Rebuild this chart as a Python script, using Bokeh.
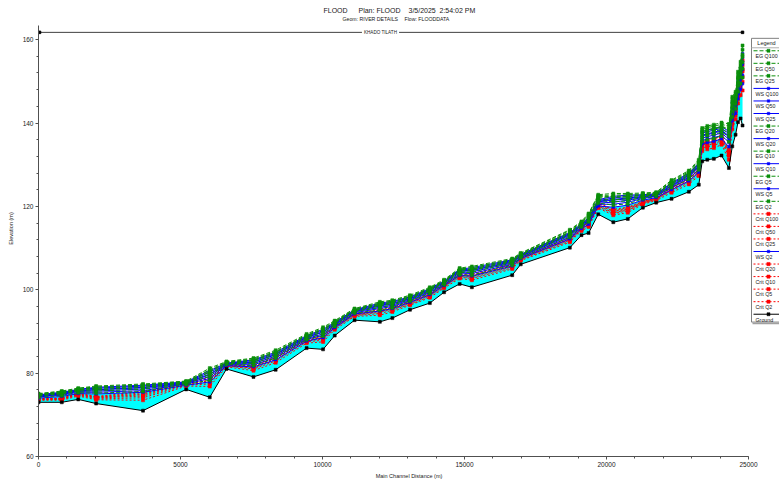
from bokeh.plotting import figure
from bokeh.models import Range1d, Label, SingleIntervalTicker
from bokeh.embed import file_html
from bokeh.resources import INLINE

# ---------------- data ----------------
station = [0, 820, 1400, 2030, 3680, 5200, 6030, 6620, 7570, 8350, 9440, 10020, 10430, 11130,
           12020, 12460, 13080, 13780, 14280, 14830, 15260, 16680, 16980, 18710, 19120, 19370,
           19710, 20240, 20750, 21280, 21750, 22290, 22900, 23250, 23370, 23550, 23780, 24050,
           24310, 24430, 24545, 24630, 24720, 24790]

ground = [73.0, 73.0, 73.7, 72.7, 71.0, 76.1, 74.2, 81.0, 79.1, 80.8, 86.0, 85.7, 89.0, 92.7,
          92.3, 93.2, 95.2, 96.8, 99.4, 101.4, 100.6, 103.5, 106.1, 110.1, 113.1, 113.6, 118.1,
          116.2, 117.0, 119.7, 120.9, 121.8, 123.5, 125.2, 130.8, 131.2, 131.4, 132.2, 129.2,
          134.4, 137.2, 140.2, 141.1, 139.4]

ws_q100 = [74.8, 75.4, 76.1, 76.6, 77.1, 77.9, 80.6, 82.4, 83.2, 85.0, 89.0, 90.5, 92.2, 95.2, 96.8, 97.2, 98.3, 100.3, 102.1, 104.9, 105.3, 107.2, 108.5, 113.7, 115.8, 117.3, 121.6, 122.4, 122.7, 122.8, 123.0, 125.6, 128.0, 130.4, 138.0, 138.3, 138.7, 139.1, 138.0, 145.1, 146.0, 149.9, 153.1, 156.7]
ws_q50 = [74.7, 75.3, 76.0, 76.4, 76.9, 77.8, 80.2, 82.3, 83.0, 84.7, 88.8, 90.2, 92.0, 95.1, 96.5, 97.0, 98.1, 100.1, 101.9, 104.7, 105.0, 107.0, 108.4, 113.5, 115.6, 117.1, 121.4, 122.0, 122.4, 122.6, 122.9, 125.4, 127.7, 130.1, 137.6, 137.9, 138.3, 138.7, 137.5, 144.5, 145.5, 149.3, 152.4, 155.7]
ws_q25 = [74.6, 75.1, 75.8, 76.1, 76.6, 77.7, 79.8, 82.2, 82.7, 84.5, 88.6, 89.9, 91.8, 94.9, 96.3, 96.7, 97.9, 99.9, 101.8, 104.5, 104.7, 106.8, 108.2, 113.3, 115.5, 116.9, 121.2, 121.7, 122.0, 122.4, 122.7, 125.1, 127.5, 129.8, 137.1, 137.4, 137.8, 138.3, 136.9, 143.8, 144.9, 148.7, 151.7, 154.6]
ws_q20 = [74.5, 75.0, 75.7, 76.0, 76.5, 77.6, 79.6, 82.2, 82.6, 84.4, 88.6, 89.8, 91.7, 94.8, 96.1, 96.6, 97.8, 99.8, 101.7, 104.4, 104.6, 106.6, 108.1, 113.2, 115.4, 116.7, 121.1, 121.5, 121.8, 122.3, 122.7, 125.0, 127.3, 129.6, 136.9, 137.2, 137.6, 138.1, 136.7, 143.5, 144.7, 148.4, 151.3, 154.1]
ws_q10 = [74.4, 74.9, 75.6, 75.7, 76.2, 77.5, 79.2, 82.1, 82.3, 84.1, 88.3, 89.4, 91.5, 94.7, 95.8, 96.3, 97.6, 99.5, 101.5, 104.1, 104.3, 106.4, 108.0, 112.9, 115.2, 116.5, 120.8, 121.0, 121.5, 122.1, 122.5, 124.8, 127.0, 129.3, 136.4, 136.7, 137.1, 137.6, 136.1, 142.8, 144.1, 147.8, 150.5, 152.9]
ws_q5 = [74.3, 74.7, 75.4, 75.4, 75.8, 77.4, 78.7, 82.0, 82.0, 83.7, 88.1, 89.1, 91.2, 94.5, 95.5, 96.0, 97.4, 99.3, 101.3, 103.8, 103.9, 106.1, 107.8, 112.6, 115.0, 116.2, 120.5, 120.5, 121.0, 121.9, 122.4, 124.5, 126.7, 128.8, 135.8, 136.2, 136.5, 137.0, 135.4, 141.9, 143.4, 147.0, 149.5, 151.5]
ws_q2 = [74.0, 74.4, 75.1, 75.0, 75.4, 77.1, 77.9, 81.8, 81.5, 83.2, 87.7, 88.5, 90.9, 94.2, 94.9, 95.5, 97.0, 98.8, 101.0, 103.4, 103.3, 105.7, 107.5, 112.2, 114.7, 115.7, 120.1, 119.8, 120.3, 121.5, 122.1, 124.0, 126.1, 128.2, 135.0, 135.3, 135.6, 136.2, 134.3, 140.6, 142.3, 145.8, 148.1, 149.4]

eg_q100 = [75.1, 75.7, 76.4, 76.9, 77.4, 78.1, 81.2, 82.8, 83.6, 85.5, 89.4, 91.0, 92.6, 95.5, 97.1, 97.5, 98.7, 100.6, 102.4, 105.2, 105.6, 107.5, 108.8, 114.4, 116.4, 118.3, 122.8, 123.1, 123.1, 123.2, 123.4, 126.3, 128.6, 131.2, 138.8, 139.3, 139.6, 140.1, 139.8, 146.3, 147.5, 152.3, 154.7, 158.6]
eg_q50 = [75.0, 75.6, 76.3, 76.7, 77.2, 78.0, 80.8, 82.7, 83.4, 85.2, 89.2, 90.7, 92.4, 95.4, 96.8, 97.3, 98.5, 100.4, 102.2, 105.0, 105.3, 107.3, 108.7, 114.2, 116.2, 118.1, 122.6, 122.7, 122.8, 123.0, 123.3, 126.1, 128.3, 130.9, 138.4, 138.9, 139.2, 139.7, 139.2, 145.7, 147.0, 151.6, 154.0, 157.6]
eg_q25 = [74.9, 75.4, 76.1, 76.4, 76.9, 77.9, 80.4, 82.6, 83.1, 85.0, 89.0, 90.4, 92.2, 95.2, 96.6, 97.0, 98.3, 100.2, 102.1, 104.8, 105.0, 107.1, 108.5, 113.9, 116.1, 117.8, 122.3, 122.4, 122.4, 122.8, 123.1, 125.8, 128.1, 130.5, 137.9, 138.4, 138.7, 139.2, 138.6, 145.0, 146.3, 150.9, 153.2, 156.4]
eg_q20 = [74.8, 75.3, 76.0, 76.3, 76.8, 77.8, 80.2, 82.6, 83.0, 84.9, 89.0, 90.3, 92.1, 95.1, 96.4, 96.9, 98.2, 100.1, 102.0, 104.7, 104.9, 106.9, 108.4, 113.8, 116.0, 117.6, 122.2, 122.2, 122.2, 122.7, 123.1, 125.6, 127.9, 130.3, 137.7, 138.2, 138.5, 139.0, 138.4, 144.7, 146.1, 150.6, 152.9, 155.9]
eg_q10 = [74.7, 75.2, 75.9, 76.0, 76.5, 77.7, 79.7, 82.4, 82.7, 84.5, 88.7, 89.9, 91.9, 95.0, 96.1, 96.6, 98.0, 99.8, 101.8, 104.4, 104.6, 106.7, 108.3, 113.5, 115.7, 117.3, 121.8, 121.6, 121.8, 122.4, 122.9, 125.4, 127.5, 130.0, 137.1, 137.6, 137.9, 138.5, 137.6, 143.9, 145.4, 149.8, 152.0, 154.6]
eg_q5 = [74.6, 75.0, 75.7, 75.7, 76.1, 77.6, 79.2, 82.3, 82.3, 84.1, 88.4, 89.5, 91.5, 94.8, 95.7, 96.3, 97.7, 99.6, 101.6, 104.1, 104.2, 106.4, 108.1, 113.1, 115.5, 116.9, 121.4, 121.1, 121.3, 122.2, 122.7, 125.0, 127.2, 129.5, 136.5, 137.0, 137.3, 137.8, 136.8, 142.9, 144.6, 148.9, 151.0, 153.1]
eg_q2 = [74.2, 74.6, 75.3, 75.2, 75.6, 77.3, 78.3, 82.1, 81.8, 83.6, 88.0, 88.9, 91.2, 94.4, 95.1, 95.7, 97.3, 99.1, 101.2, 103.6, 103.5, 105.9, 107.7, 112.6, 115.1, 116.3, 120.8, 120.3, 120.6, 121.8, 122.4, 124.5, 126.5, 128.8, 135.6, 136.0, 136.3, 136.9, 135.5, 141.5, 143.4, 147.5, 149.5, 150.9]

crit_q100 = [73.9, 74.0, 75.2, 74.4, 75.6, 77.6, 79.0, 82.0, 81.9, 84.0, 88.3, 89.0, 91.5, 94.3, 95.3, 96.0, 97.2, 99.2, 101.3, 103.8, 103.7, 106.2, 107.8, 112.5, 115.0, 116.3, 120.8, 119.3, 119.8, 121.2, 122.0, 124.6, 126.8, 129.0, 135.5, 135.8, 136.2, 137.0, 133.5, 142.0, 144.0, 148.5, 151.5, 155.0]
crit_q50 = [73.8, 73.9, 75.1, 74.3, 75.3, 77.5, 78.7, 81.9, 81.7, 83.8, 88.1, 88.8, 91.3, 94.2, 95.1, 95.8, 97.1, 99.0, 101.2, 103.6, 103.5, 106.0, 107.7, 112.3, 114.9, 116.1, 120.6, 119.1, 119.6, 121.1, 121.9, 124.4, 126.6, 128.7, 135.2, 135.5, 135.9, 136.7, 133.2, 141.5, 143.5, 147.9, 150.8, 153.9]
crit_q25 = [73.8, 73.9, 75.0, 74.2, 75.0, 77.4, 78.3, 81.9, 81.5, 83.6, 88.0, 88.5, 91.2, 94.1, 94.9, 95.6, 96.9, 98.9, 101.0, 103.5, 103.3, 105.8, 107.6, 112.2, 114.7, 115.9, 120.4, 118.9, 119.4, 121.0, 121.9, 124.2, 126.3, 128.5, 134.8, 135.2, 135.5, 136.3, 132.9, 140.9, 143.0, 147.3, 150.0, 152.8]
crit_q20 = [73.7, 73.8, 74.9, 74.1, 74.8, 77.3, 78.2, 81.8, 81.4, 83.5, 87.9, 88.4, 91.1, 94.0, 94.8, 95.5, 96.9, 98.8, 101.0, 103.4, 103.2, 105.7, 107.5, 112.1, 114.7, 115.8, 120.3, 118.8, 119.3, 120.9, 121.8, 124.1, 126.2, 128.4, 134.7, 135.0, 135.4, 136.2, 132.8, 140.7, 142.8, 147.1, 149.7, 152.4]
crit_q10 = [73.7, 73.8, 74.8, 74.0, 74.5, 77.2, 77.8, 81.8, 81.2, 83.2, 87.7, 88.2, 90.9, 93.9, 94.6, 95.3, 96.7, 98.6, 100.8, 103.2, 102.9, 105.5, 107.4, 111.9, 114.5, 115.6, 120.1, 118.5, 119.1, 120.8, 121.7, 123.9, 126.0, 128.1, 134.3, 134.7, 135.0, 135.8, 132.4, 140.1, 142.3, 146.4, 148.9, 151.1]
crit_q5 = [73.6, 73.7, 74.7, 73.8, 74.1, 77.1, 77.4, 81.7, 81.0, 82.9, 87.5, 87.9, 90.7, 93.8, 94.3, 95.1, 96.5, 98.4, 100.7, 103.0, 102.7, 105.3, 107.2, 111.7, 114.4, 115.4, 119.9, 118.3, 118.9, 120.7, 121.7, 123.7, 125.7, 127.7, 134.0, 134.3, 134.6, 135.4, 132.1, 139.5, 141.8, 145.8, 148.1, 149.9]
crit_q2 = [73.5, 73.5, 74.5, 73.6, 73.5, 76.9, 76.8, 81.5, 80.6, 82.5, 87.2, 87.5, 90.4, 93.6, 93.9, 94.7, 96.3, 98.1, 100.4, 102.7, 102.3, 105.0, 107.0, 111.4, 114.1, 115.1, 119.6, 117.9, 118.5, 120.5, 121.4, 123.3, 125.3, 127.3, 133.3, 133.7, 134.0, 134.8, 131.2, 138.5, 140.9, 144.7, 146.7, 147.8]

x_tick_interval = 5000
y_tick_interval = 20

title_parts = ["FLOOD", "Plan: FLOOD", "3/5/2025", "2:54:02 PM"]
subtitle_parts = ["Geom: RIVER DETAILS", "Flow: FLOODDATA"]
reach_name = "KHADO TILATH"
x_label = "Main Channel Distance (m)"
y_label = "Elevation (m)"

legend_order = ["EG Q100", "EG Q50", "EG Q25", "WS Q100", "WS Q50", "WS Q25", "EG Q20",
                "WS Q20", "EG Q10", "WS Q10", "EG Q5", "WS Q5", "EG Q2", "Crit Q100",
                "Crit Q50", "Crit Q25", "WS Q2", "Crit Q20", "Crit Q10", "Crit Q5",
                "Crit Q2", "Ground"]

series = {
    "EG Q100": eg_q100, "EG Q50": eg_q50, "EG Q25": eg_q25, "EG Q20": eg_q20,
    "EG Q10": eg_q10, "EG Q5": eg_q5, "EG Q2": eg_q2,
    "WS Q100": ws_q100, "WS Q50": ws_q50, "WS Q25": ws_q25, "WS Q20": ws_q20,
    "WS Q10": ws_q10, "WS Q5": ws_q5, "WS Q2": ws_q2,
    "Crit Q100": crit_q100, "Crit Q50": crit_q50, "Crit Q25": crit_q25, "Crit Q20": crit_q20,
    "Crit Q10": crit_q10, "Crit Q5": crit_q5, "Crit Q2": crit_q2,
    "Ground": ground,
}
for k, v in series.items():
    if len(v) != len(station):
        print("length mismatch", k, len(v))

# ---------------- styles ----------------
FONT = "Liberation Sans"
GREEN, BLUE, RED, BLACK, CYAN = "#0b8f0b", "#0000ff", "#ff0000", "#000000", "#00ffff"


def style_of(name):
    if name.startswith("EG"):
        return dict(color=GREEN, dash="4 2", marker="square", size=3, width=1)
    if name.startswith("WS"):
        return dict(color=BLUE, dash="solid", marker="square", size=2.5, width=1)
    if name.startswith("Crit"):
        return dict(color=RED, dash="2 2", marker="square", size=3.2, width=1)
    return dict(color=BLACK, dash="solid", marker="square", size=3, width=1)


# ---------------- layout (canvas pixels = picture pixels) ----------------
W, H = 779, 481
ML, MB = 38, 23
FW, FH = W - ML, H - MB
X_END = 25000 * FW / 710.0
a = 39.3 / FH
Y_END = (160 - 60 * a) / (1 - a)

p = figure(width=W, height=H, output_backend="svg", toolbar_location=None,
           x_range=Range1d(0, X_END), y_range=Range1d(60, Y_END),
           min_border_left=ML, min_border_right=0, min_border_top=0, min_border_bottom=MB,
           x_axis_label=x_label, y_axis_label=y_label)
p.extra_x_ranges = {"px": Range1d(0, FW)}
p.extra_y_ranges = {"px": Range1d(FH, 0)}
p.outline_line_color = None
p.xgrid.grid_line_color = None
p.ygrid.grid_line_color = None
p.background_fill_color = "white"
p.border_fill_color = "white"


def sx(s):
    return s - ML


def sy(s):
    return s


# axes
p.xaxis.ticker = SingleIntervalTicker(interval=x_tick_interval, num_minor_ticks=5)
p.yaxis.ticker = SingleIntervalTicker(interval=y_tick_interval, num_minor_ticks=5)
p.xaxis.bounds = (0, 25000)
p.yaxis.bounds = (60, Y_END - 25 * (Y_END - 60) / FH)
for ax in (p.xaxis, p.yaxis):
    ax.axis_line_color = "#505050"
    ax.major_tick_line_color = "#505050"
    ax.minor_tick_line_color = "#505050"
    ax.major_tick_out = 3
    ax.major_tick_in = 0
    ax.minor_tick_out = 2
    ax.minor_tick_in = 0
    ax.major_label_text_font = FONT
    ax.major_label_text_font_size = "6.5px"
    ax.major_label_text_color = "#202020"
    ax.major_label_standoff = 2
    ax.axis_label_text_font = FONT
    ax.axis_label_text_font_size = "5.5px"
    ax.axis_label_text_font_style = "normal"
    ax.axis_label_text_color = "#202020"
p.xaxis.axis_label_standoff = 3
p.yaxis.axis_label_standoff = 6
p.yaxis.major_label_orientation = "horizontal"

# water fill between ground and lowest water surface
p.varea(x=station, y1=ground, y2=ws_q2, fill_color=CYAN, fill_alpha=1.0)

draw_order = ["Crit Q2", "Crit Q5", "Crit Q10", "Crit Q20", "Crit Q25", "Crit Q50", "Crit Q100",
              "WS Q2", "WS Q5", "WS Q10", "WS Q20", "WS Q25", "WS Q50", "WS Q100",
              "Ground",
              "EG Q2", "EG Q5", "EG Q10", "EG Q20", "EG Q25", "EG Q50", "EG Q100"]
for name in draw_order:
    st = style_of(name)
    ys = series[name]
    p.line(station, ys, line_color=st["color"], line_dash=st["dash"], line_width=st["width"])
    p.scatter(station, ys, marker=st["marker"], size=st["size"], line_width=0.5,
              fill_color=st["color"], line_color=st["color"])

# ---------------- titles ----------------
for txt, lx in zip(title_parts, [323, 358, 408, 439]):
    p.add_layout(Label(x=sx(lx), y=sy(10), x_range_name="px", y_range_name="px", text=txt,
                       text_align="left", text_baseline="middle", text_font=FONT,
                       text_font_size="7px", text_color="#202020"))
for txt, lx in zip(subtitle_parts, [342, 404]):
    p.add_layout(Label(x=sx(lx), y=sy(19), x_range_name="px", y_range_name="px", text=txt,
                       text_align="left", text_baseline="middle", text_font=FONT,
                       text_font_size="5.2px", text_color="#202020"))

# reach line with name
p.line(x=[sx(38), sx(743)], y=[sy(32), sy(32)], x_range_name="px", y_range_name="px",
       line_color="#404040", line_width=1)
p.scatter(x=[sx(39), sx(742)], y=[sy(32), sy(32)], x_range_name="px", y_range_name="px",
          marker="square", size=2.5, fill_color=BLACK, line_color=BLACK)
p.add_layout(Label(x=sx(380), y=sy(32), x_range_name="px", y_range_name="px", text=reach_name,
                   text_align="center", text_baseline="middle", text_font=FONT,
                   text_font_size="4.6px", text_color="#202020",
                   background_fill_color="white", padding=2))

# ---------------- legend (drawn as in the original: line above label) ----------------
p.quad(left=sx(751), right=sx(800), top=sy(38), bottom=sy(323), x_range_name="px",
       y_range_name="px", fill_color="white", line_color="#808080", line_width=1)
p.line(x=[sx(752), sx(800)], y=[sy(324.5), sy(324.5)], x_range_name="px", y_range_name="px",
       line_color="#a0a0a0", line_width=1.5)
p.line(x=[sx(751), sx(800)], y=[sy(47.5), sy(47.5)], x_range_name="px", y_range_name="px",
       line_color="#b0b0b0", line_width=1)
p.add_layout(Label(x=sx(766), y=sy(43), x_range_name="px", y_range_name="px", text="Legend",
                   text_align="center", text_baseline="middle", text_font=FONT,
                   text_font_size="5.5px", text_color="#202020"))
for i, name in enumerate(legend_order):
    st = style_of(name)
    yl = sy(50.5 + 12.6 * i)
    yt = sy(55.8 + 12.6 * i)
    p.line(x=[sx(753), sx(800)], y=[yl, yl], x_range_name="px", y_range_name="px",
           line_color=st["color"], line_dash=st["dash"], line_width=1)
    p.scatter(x=[sx(768)], y=[yl], x_range_name="px", y_range_name="px", marker=st["marker"],
              size=st["size"], line_width=0.5, fill_color=st["color"], line_color=st["color"])
    p.add_layout(Label(x=sx(755), y=yt, x_range_name="px", y_range_name="px", text=name,
                       text_align="left", text_baseline="middle", text_font=FONT,
                       text_font_size="5.3px", text_color="#202020"))

open("out.html", "w").write(file_html(p, INLINE))
